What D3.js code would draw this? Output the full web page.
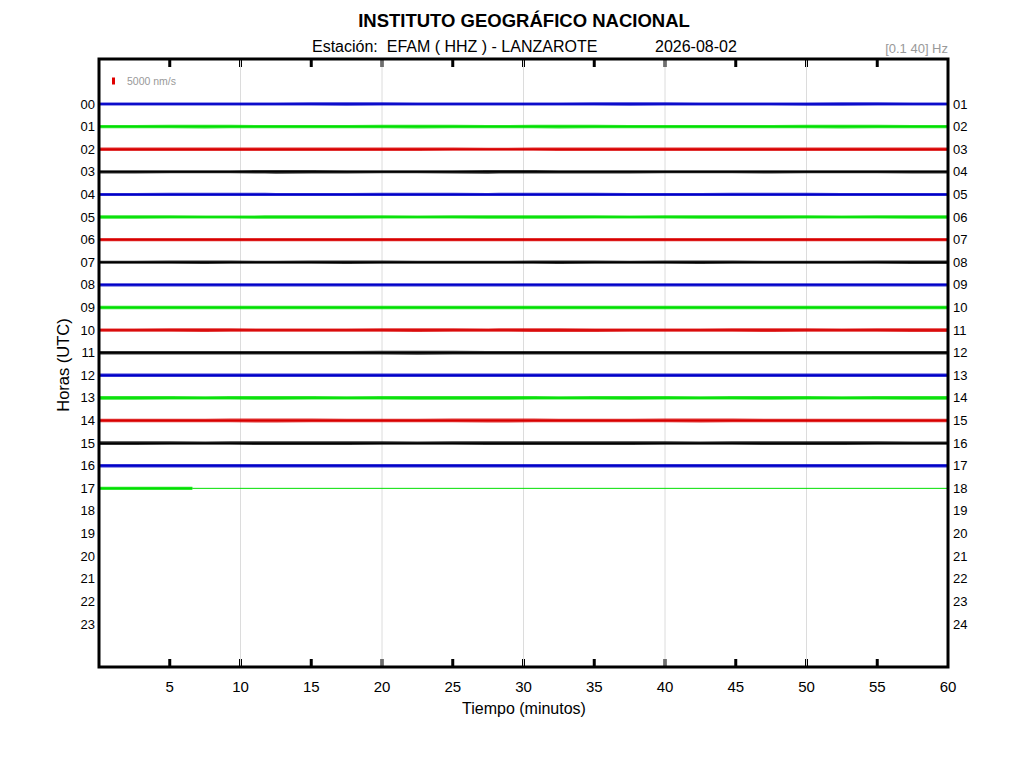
<!DOCTYPE html>
<html>
<head>
<meta charset="utf-8">
<script src="https://cdn.jsdelivr.net/npm/d3@7/dist/d3.min.js"></script>
<style>
  body { margin: 0; background: #fff; }
  text { font-family: "Liberation Sans", Arial, sans-serif; }
</style>
</head>
<body>
<svg id="vis" width="1024" height="768"></svg>
<script>
// hour rows on the left, the right side labels are hour+1
const hour_labels = "00 01 02 03 04 05 06 07 08 09 10 11 12 13 14 15 16 17 18 19 20 21 22 23".split(" ");
const right_labels = "01 02 03 04 05 06 07 08 09 10 11 12 13 14 15 16 17 18 19 20 21 22 23 24".split(" ");
const minute_ticks = [5, 10, 15, 20, 25, 30, 35, 40, 45, 50, 55, 60];
const grid_minutes = [10, 20, 30, 40, 50];
const trace_colors = ["#0000c8", "#00e000", "#d80000", "#000000"];

// peak amplitude (nm/s) per 5 minute block
const hour_amp = [
  [1100, 1000, 1100, 1200, 1100, 1000, 1100, 1200, 1100, 1000, 1200, 1100],
  [1200, 1300, 1200, 1200, 1300, 1200, 1300, 1200, 1100, 1200, 1300, 1200],
  [1200, 1200, 1300, 1200, 1200, 1100, 1200, 1300, 1200, 1200, 1200, 1300],
  [1200, 1100, 1300, 1200, 1100, 1300, 1200, 1200, 1100, 1200, 1100, 1200],
  [1100, 1200, 1100, 1100, 1200, 1100, 1200, 1100, 1100, 1200, 1100, 1100],
  [1200, 1100, 1200, 1200, 1100, 1200, 1200, 1100, 1200, 1200, 1100, 1200],
  [1200, 1100, 1200, 1100, 1200, 1200, 1100, 1200, 1100, 1200, 1100, 1200],
  [1100, 1200, 1100, 1200, 1100, 1100, 1200, 1100, 1200, 1100, 1100, 1200],
  [1200, 1200, 1100, 1200, 1200, 1100, 1200, 1200, 1100, 1200, 1200, 1100],
  [1300, 1200, 1300, 1300, 1200, 1300, 1200, 1300, 1300, 1200, 1300, 1300],
  [1200, 1300, 1200, 1200, 1300, 1200, 1400, 1200, 1200, 1300, 1200, 1300],
  [1300, 1300, 1200, 1300, 1400, 1300, 1300, 1200, 1300, 1300, 1300, 1300],
  [1200, 1200, 1200, 1300, 1200, 1200, 1300, 1200, 1200, 1200, 1300, 1200],
  [1300, 1200, 1300, 1200, 1300, 1300, 1200, 1300, 1200, 1300, 1200, 1300],
  [1300, 1300, 1400, 1300, 1300, 1400, 1300, 1300, 1400, 1300, 1300, 1300],
  [1300, 1200, 1300, 1300, 1200, 1300, 1300, 1300, 1200, 1300, 1300, 1200],
  [1200, 1200, 1300, 1200, 1200, 1300, 1200, 1200, 1300, 1200, 1200, 1300],
  [1200, 1200]
];
// minutes of signal recorded in each hour (last hour stops early, then flat)
const recorded_until = [60, 60, 60, 60, 60, 60, 60, 60, 60, 60, 60, 60, 60, 60, 60, 60, 60, 6.6];
const scale_value = 5000;

const svg = d3.select("#vis");
const plot_left = 99, plot_right = 948, plot_top = 59, plot_bottom = 667;

const x = d3.scaleLinear().domain([0, 60]).range([plot_left, plot_right]);
const y = d3.scaleLinear().domain([0, 23]).range([104, 624]);
const amp = d3.scaleLinear().domain([0, scale_value]).range([0, 7]);

// gridlines every 10 minutes
svg.selectAll("line.grid").data(grid_minutes)
  .join("line").attr("class", "grid")
  .attr("x1", d => x(d)).attr("x2", d => x(d))
  .attr("y1", plot_top).attr("y2", plot_bottom)
  .attr("stroke", "#dcdcdc").attr("stroke-width", 1);

// traces
hour_amp.forEach((blocks, h) => {
  const end = recorded_until[h];
  const pts = [{m: 0, a: blocks[0]}];
  blocks.forEach((a, i) => {
    const m = Math.min(i * 5 + 2.5, end);
    pts.push({m: m, a: a});
  });
  pts.push({m: end, a: blocks[blocks.length - 1]});
  const color = trace_colors[h % 4];
  const area = d3.area()
    .x(d => x(d.m))
    .y0(d => y(h) - amp(d.a))
    .y1(d => y(h) + amp(d.a))
    .curve(d3.curveMonotoneX);
  svg.append("path").datum(pts)
    .attr("d", area)
    .attr("fill", color)
    .attr("opacity", 0.8);
  svg.append("line")
    .attr("x1", x(0)).attr("x2", x(end))
    .attr("y1", y(h)).attr("y2", y(h))
    .attr("stroke", color).attr("stroke-width", 1.5);
  if (end < 60) {
    svg.append("line")
      .attr("x1", x(end)).attr("x2", x(60))
      .attr("y1", y(h)).attr("y2", y(h))
      .attr("stroke", color).attr("stroke-width", 1);
  }
});

// tick marks (inside, top and bottom)
const tickLen = 8;
minute_ticks.filter(d => d < 60).forEach(d => {
  svg.append("line").attr("x1", x(d)).attr("x2", x(d))
    .attr("y1", plot_top).attr("y2", plot_top + tickLen)
    .attr("stroke", "#000").attr("stroke-width", 3);
  svg.append("line").attr("x1", x(d)).attr("x2", x(d))
    .attr("y1", plot_bottom - tickLen).attr("y2", plot_bottom)
    .attr("stroke", "#000").attr("stroke-width", 3);
});
// gridline shows through the ticks
svg.selectAll("line.gridtop").data(grid_minutes)
  .join("line").attr("class", "gridtop")
  .attr("x1", d => x(d)).attr("x2", d => x(d))
  .attr("y1", plot_top + 1).attr("y2", plot_top + tickLen)
  .attr("stroke", "#dcdcdc").attr("stroke-width", 1);
svg.selectAll("line.gridbot").data(grid_minutes)
  .join("line").attr("class", "gridbot")
  .attr("x1", d => x(d)).attr("x2", d => x(d))
  .attr("y1", plot_bottom - tickLen).attr("y2", plot_bottom - 1)
  .attr("stroke", "#dcdcdc").attr("stroke-width", 1);

// frame
svg.append("rect")
  .attr("x", plot_left).attr("y", plot_top)
  .attr("width", plot_right - plot_left).attr("height", plot_bottom - plot_top)
  .attr("fill", "none").attr("stroke", "#000").attr("stroke-width", 3);

// x tick labels
svg.selectAll("text.xt").data(minute_ticks)
  .join("text").attr("class", "xt")
  .attr("x", d => x(d)).attr("y", 692)
  .attr("text-anchor", "middle")
  .attr("font-size", 15)
  .text(d => d);

// hour labels
svg.selectAll("text.yl").data(hour_labels)
  .join("text").attr("class", "yl")
  .attr("x", 95).attr("y", (d, i) => y(i) + 4.5)
  .attr("text-anchor", "end")
  .attr("font-size", 13)
  .text(d => d);
svg.selectAll("text.yr").data(right_labels)
  .join("text").attr("class", "yr")
  .attr("x", 953).attr("y", (d, i) => y(i) + 4.5)
  .attr("font-size", 13)
  .text(d => d);

// titles
svg.append("text").attr("x", 524).attr("y", 27)
  .attr("text-anchor", "middle").attr("font-size", 18.5).attr("font-weight", "bold")
  .text("INSTITUTO GEOGRÁFICO NACIONAL");
svg.append("text").attr("x", 312).attr("y", 52)
  .attr("font-size", 16)
  .style("white-space", "pre")
  .text("Estación:  EFAM ( HHZ ) - LANZAROTE");
svg.append("text").attr("x", 655).attr("y", 52)
  .attr("font-size", 16)
  .text("2026-08-02");
svg.append("text").attr("x", 948).attr("y", 53)
  .attr("text-anchor", "end").attr("font-size", 13).attr("fill", "#999")
  .text("[0.1 40] Hz");

// amplitude scale bar
svg.append("rect")
  .attr("x", 112).attr("y", 81 - amp(scale_value) / 2)
  .attr("width", 3).attr("height", amp(scale_value))
  .attr("fill", "#e00000");
svg.append("text").attr("x", 127).attr("y", 85)
  .attr("font-size", 10.5).attr("fill", "#999")
  .text("5000 nm/s");

// axis labels
svg.append("text").attr("x", 524).attr("y", 714)
  .attr("text-anchor", "middle").attr("font-size", 16)
  .text("Tiempo (minutos)");
svg.append("text")
  .attr("transform", "translate(69,365) rotate(-90)")
  .attr("text-anchor", "middle").attr("font-size", 16.5)
  .text("Horas (UTC)");
</script>
</body>
</html>
